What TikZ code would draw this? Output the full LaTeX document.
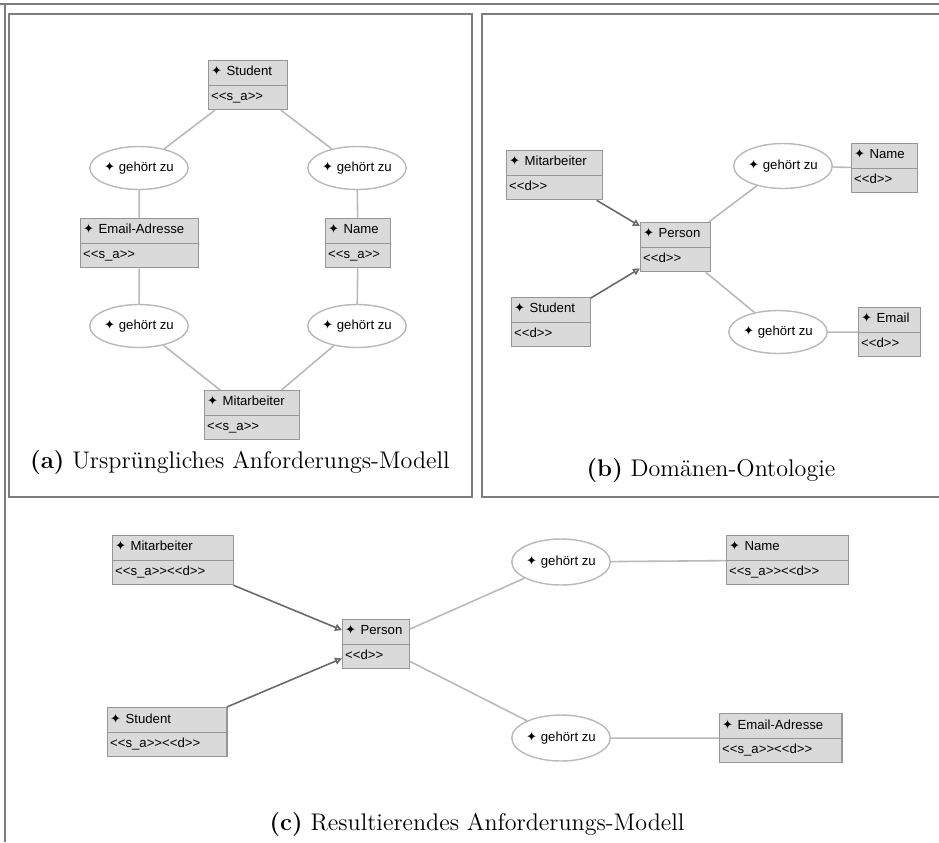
\documentclass[tikz,border=0pt]{standalone}
\usepackage{fontspec}
\usepackage{tikz}
\usetikzlibrary{shapes,shapes.multipart,arrows.meta}
\newfontfamily\umlfont{Liberation Sans}
\newfontfamily\iconfont{DejaVu Sans}
\definecolor{umlfill}{RGB}{218,218,218}
\definecolor{umlline}{RGB}{150,150,150}
\definecolor{assocgray}{RGB}{185,185,185}
\definecolor{gengray}{RGB}{105,105,105}
\definecolor{framegray}{RGB}{125,125,125}
\newcommand{\umlname}[1]{\strut{\iconfont\char"2726}~#1}
\newcommand{\stereo}[1]{\strut<\kern0pt<#1>\kern0pt>}
\tikzset{
  umlclass/.style={rectangle split, rectangle split parts=2, draw=umlline, fill=umlfill,
    font=\umlfont\fontsize{7.5}{9}\selectfont, align=left, anchor=north west,
    inner xsep=1.5pt, inner ysep=2.2pt, text width=#1, line width=0.6pt},
  relation/.style={ellipse, draw=assocgray, fill=white, minimum width=1.76cm,
    minimum height=0.86cm, inner sep=0pt, font=\umlfont\fontsize{7.5}{9}\selectfont,
    line width=0.8pt},
  assoc/.style={draw=assocgray, line width=0.9pt},
  generalize/.style={draw=gengray, line width=0.9pt, -{Triangle[open,length=4pt,width=4pt]}},
  panel/.style={draw=framegray, line width=1.2pt},
  subcap/.style={font=\fontsize{13.7}{16}\selectfont}
}
\begin{document}
\begin{tikzpicture}[x=0.02cm, y=-0.02cm]
  \useasboundingbox (0,0) rectangle (939,842);
  \draw[framegray, line width=0.6pt] (0,4) -- (939,4) (5,4) -- (5,842);
  \draw[panel] (9,14) rectangle (472,497);
  \draw[panel] (939,14) -- (482,14) -- (482,497) -- (939,497);

  % (a)
  \node[umlclass=41.8pt] (stuA) at (208,60) {\umlname{Student}\nodepart{second}\stereo{s\_a}};
  \node[relation] (gzA1) at (139,168) {\umlname{gehört zu}};
  \node[relation] (gzA2) at (357,168) {\umlname{gehört zu}};
  \node[umlclass=63.9pt] (mailA) at (80,218) {\umlname{Email-Adresse}\nodepart{second}\stereo{s\_a}};
  \node[umlclass=33.9pt] (nameA) at (325,218) {\umlname{Name}\nodepart{second}\stereo{s\_a}};
  \node[relation] (gzA3) at (139,326) {\umlname{gehört zu}};
  \node[relation] (gzA4) at (357,326) {\umlname{gehört zu}};
  \node[umlclass=50.9pt] (mitA) at (204,390) {\umlname{Mitarbeiter}\nodepart{second}\stereo{s\_a}};
  \draw[assoc] (stuA) -- (gzA1);
  \draw[assoc] (stuA) -- (gzA2);
  \draw[assoc] (gzA1) -- (mailA);
  \draw[assoc] (mailA) -- (gzA3);
  \draw[assoc] (gzA2) -- (nameA);
  \draw[assoc] (nameA) -- (gzA4);
  \draw[assoc] (gzA3) -- (mitA);
  \draw[assoc] (gzA4) -- (mitA);
  \node[subcap] (capA) at (240,462) {\textbf{(a)} Ursprüngliches Anforderungs-Modell};

  % (b)
  \node[umlclass=51.4pt] (mitB) at (506,150) {\umlname{Mitarbeiter}\nodepart{second}\stereo{d}};
  \node[umlclass=36.7pt] (perB) at (640,222) {\umlname{Person}\nodepart{second}\stereo{d}};
  \node[umlclass=41.8pt] (stuB) at (511,297) {\umlname{Student}\nodepart{second}\stereo{d}};
  \node[relation, minimum width=1.68cm, minimum height=0.9cm] (gzB1) at (783,166) {\umlname{gehört zu}};
  \node[umlclass=34.4pt] (nameB) at (851,143) {\umlname{Name}\nodepart{second}\stereo{d}};
  \node[relation, minimum width=1.72cm] (gzB2) at (778,332) {\umlname{gehört zu}};
  \node[umlclass=32.2pt] (mailB) at (858,307) {\umlname{Email}\nodepart{second}\stereo{d}};
  \draw[generalize] (mitB) -- (perB);
  \draw[generalize] (stuB) -- (perB);
  \draw[assoc] (perB) -- (gzB1);
  \draw[assoc] (gzB1) -- (nameB);
  \draw[assoc] (perB) -- (gzB2);
  \draw[assoc] (gzB2) -- (mailB);
  \node[subcap] (capB) at (711,470) {\textbf{(b)} Domänen-Ontologie};

  % (c)
  \node[umlclass=65.6pt] (mitC) at (112,535) {\umlname{Mitarbeiter}\nodepart{second}\stereo{s\_a}\stereo{d}};
  \node[umlclass=35pt] (perC) at (342,619) {\umlname{Person}\nodepart{second}\stereo{d}};
  \node[umlclass=65pt] (stuC) at (107,707) {\umlname{Student}\nodepart{second}\stereo{s\_a}\stereo{d}};
  \node[relation, minimum width=1.84cm, minimum height=0.92cm] (gzC1) at (561,562) {\umlname{gehört zu}};
  \node[umlclass=66.2pt] (nameC) at (726,535) {\umlname{Name}\nodepart{second}\stereo{s\_a}\stereo{d}};
  \node[relation, minimum width=1.84cm, minimum height=0.92cm] (gzC2) at (561,738) {\umlname{gehört zu}};
  \node[umlclass=66.7pt] (mailC) at (719,713) {\umlname{Email-Adresse}\nodepart{second}\stereo{s\_a}\stereo{d}};
  \draw[generalize] (mitC) -- (perC);
  \draw[generalize] (stuC) -- (perC);
  \draw[assoc] (perC) -- (gzC1);
  \draw[assoc] (gzC1) -- (nameC);
  \draw[assoc] (perC) -- (gzC2);
  \draw[assoc] (gzC2) -- (mailC);
  \node[subcap] (capC) at (477,824) {\textbf{(c)} Resultierendes Anforderungs-Modell};
\end{tikzpicture}
\end{document}
